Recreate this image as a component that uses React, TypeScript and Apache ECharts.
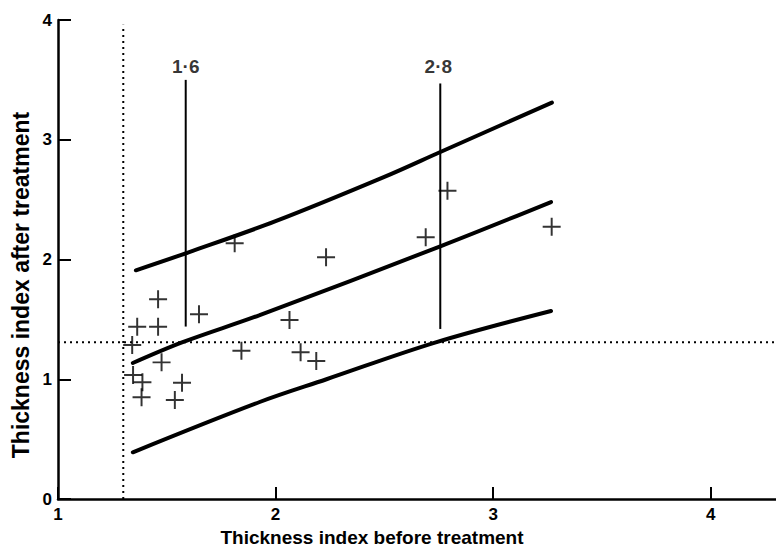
import React, { useEffect, useRef } from "react";
import * as echarts from "echarts";

const xTicks = [1, 2, 3, 4];
const yTicks = [0, 1, 2, 3, 4];

const points: [number, number][] = [
  [1.812, 2.135], [2.232, 2.018], [2.69, 2.185], [2.79, 2.575], [3.269, 2.274],
  [1.46, 1.668], [1.648, 1.542], [1.364, 1.439], [1.46, 1.439], [2.064, 1.495],
  [1.341, 1.286], [1.843, 1.238], [2.115, 1.225], [2.187, 1.152], [1.476, 1.141],
  [1.345, 1.035], [1.388, 0.974], [1.57, 0.971], [1.384, 0.849], [1.537, 0.827],
];

const upperCurve: [number, number][] = [
  [1.358, 1.91], [1.6, 2.06], [2.0, 2.32], [2.5, 2.69], [2.76, 2.9], [3.27, 3.31],
];
const middleCurve: [number, number][] = [
  [1.344, 1.136], [1.573, 1.31], [1.927, 1.536], [2.757, 2.11], [3.266, 2.48],
];
const lowerCurve: [number, number][] = [
  [1.344, 0.39], [1.927, 0.81], [2.234, 1.0], [2.74, 1.31], [3.266, 1.57],
];

const cutLine16: [number, number][] = [[1.587, 1.44], [1.587, 3.5]];
const cutLine28: [number, number][] = [[2.757, 1.42], [2.757, 3.47]];
const cutLabels = [
  { value: [1.587, 3.61], text: "1·6" },
  { value: [2.748, 3.61], text: "2·8" },
];

const dottedVertical: [number, number][] = [[1.3, 0], [1.3, 3.96]];
const dottedHorizontal: [number, number][] = [[1, 1.31], [4.3, 1.31]];

const xTitle = "Thickness index before treatment";
const yTitle = "Thickness index after treatment";

const FONT = "'Liberation Sans', Arial, Helvetica, sans-serif";

export default function App() {
  const ref = useRef<HTMLDivElement>(null);
  useEffect(() => {
    if (!ref.current) return;
    const chart = echarts.init(ref.current, null, { renderer: "svg" });
    const thick = (data: [number, number][]) => ({
      type: "line",
      data,
      smooth: 0.35,
      symbol: "none",
      lineStyle: { color: "#000", width: 4, cap: "round" },
      z: 3,
    });
    const thin = (data: [number, number][]) => ({
      type: "line",
      data,
      symbol: "none",
      lineStyle: { color: "#000", width: 2 },
      z: 3,
    });
    const dotted = (data: [number, number][]) => ({
      type: "line",
      data,
      symbol: "none",
      lineStyle: { color: "#000", width: 2, type: [2, 4] },
      z: 2,
    });
    chart.setOption({
      animation: false,
      backgroundColor: "#fff",
      grid: { left: 58, right: -1, top: 20, bottom: 47, containLabel: false },
      xAxis: {
        type: "value",
        min: 1,
        max: 4.3,
        interval: 1,
        splitLine: { show: false },
        axisLine: { show: true, onZero: false, lineStyle: { color: "#000", width: 2.5 } },
        axisTick: { show: true, inside: true, length: 12, lineStyle: { color: "#000", width: 2 } },
        axisLabel: {
          margin: 7,
          color: "#000",
          fontWeight: "bold",
          fontSize: 17,
          fontFamily: FONT,
          showMaxLabel: false,
          formatter: (v: number) => (xTicks.includes(v) ? String(v) : ""),
        },
      },
      yAxis: {
        type: "value",
        min: 0,
        max: 4,
        interval: 1,
        splitLine: { show: false },
        axisLine: { show: true, onZero: false, lineStyle: { color: "#000", width: 2.5 } },
        axisTick: { show: true, inside: true, length: 13, lineStyle: { color: "#000", width: 2 } },
        axisLabel: {
          margin: 6,
          color: "#000",
          fontWeight: "bold",
          fontSize: 17,
          fontFamily: FONT,
          formatter: (v: number) => (yTicks.includes(v) ? String(v) : ""),
        },
      },
      graphic: [
        {
          type: "text",
          x: 372,
          y: 537,
          style: {
            text: xTitle,
            fontSize: 19,
            fontWeight: "bold",
            fontFamily: FONT,
            fill: "#000",
            textAlign: "center",
            textVerticalAlign: "middle",
          },
        },
        {
          type: "text",
          x: 21,
          y: 285,
          rotation: Math.PI / 2,
          style: {
            text: yTitle,
            fontSize: 23,
            fontWeight: "bold",
            fontFamily: FONT,
            fill: "#000",
            textAlign: "center",
            textVerticalAlign: "middle",
          },
        },
      ],
      series: [
        dotted(dottedVertical),
        dotted(dottedHorizontal),
        thick(upperCurve),
        thick(middleCurve),
        thick(lowerCurve),
        thin(cutLine16),
        thin(cutLine28),
        {
          type: "scatter",
          data: cutLabels.map((d) => ({ value: d.value, name: d.text })),
          symbolSize: 0,
          label: {
            show: true,
            position: "inside",
            formatter: (p: any) => p.name,
            color: "#000",
            fontWeight: "bold",
            fontSize: 19,
            fontFamily: FONT,
          },
          z: 4,
        },
        {
          type: "scatter",
          data: points,
          symbol: "path://M8.9 0h2.2v20h-2.2zM0 8.9h20v2.2h-20z",
          symbolSize: 18,
          itemStyle: { color: "#000" },
          z: 5,
        },
      ],
    });
    return () => chart.dispose();
  }, []);
  return <div ref={ref} style={{ width: 776, height: 546, position: "absolute", left: 0, top: 0 }} />;
}
